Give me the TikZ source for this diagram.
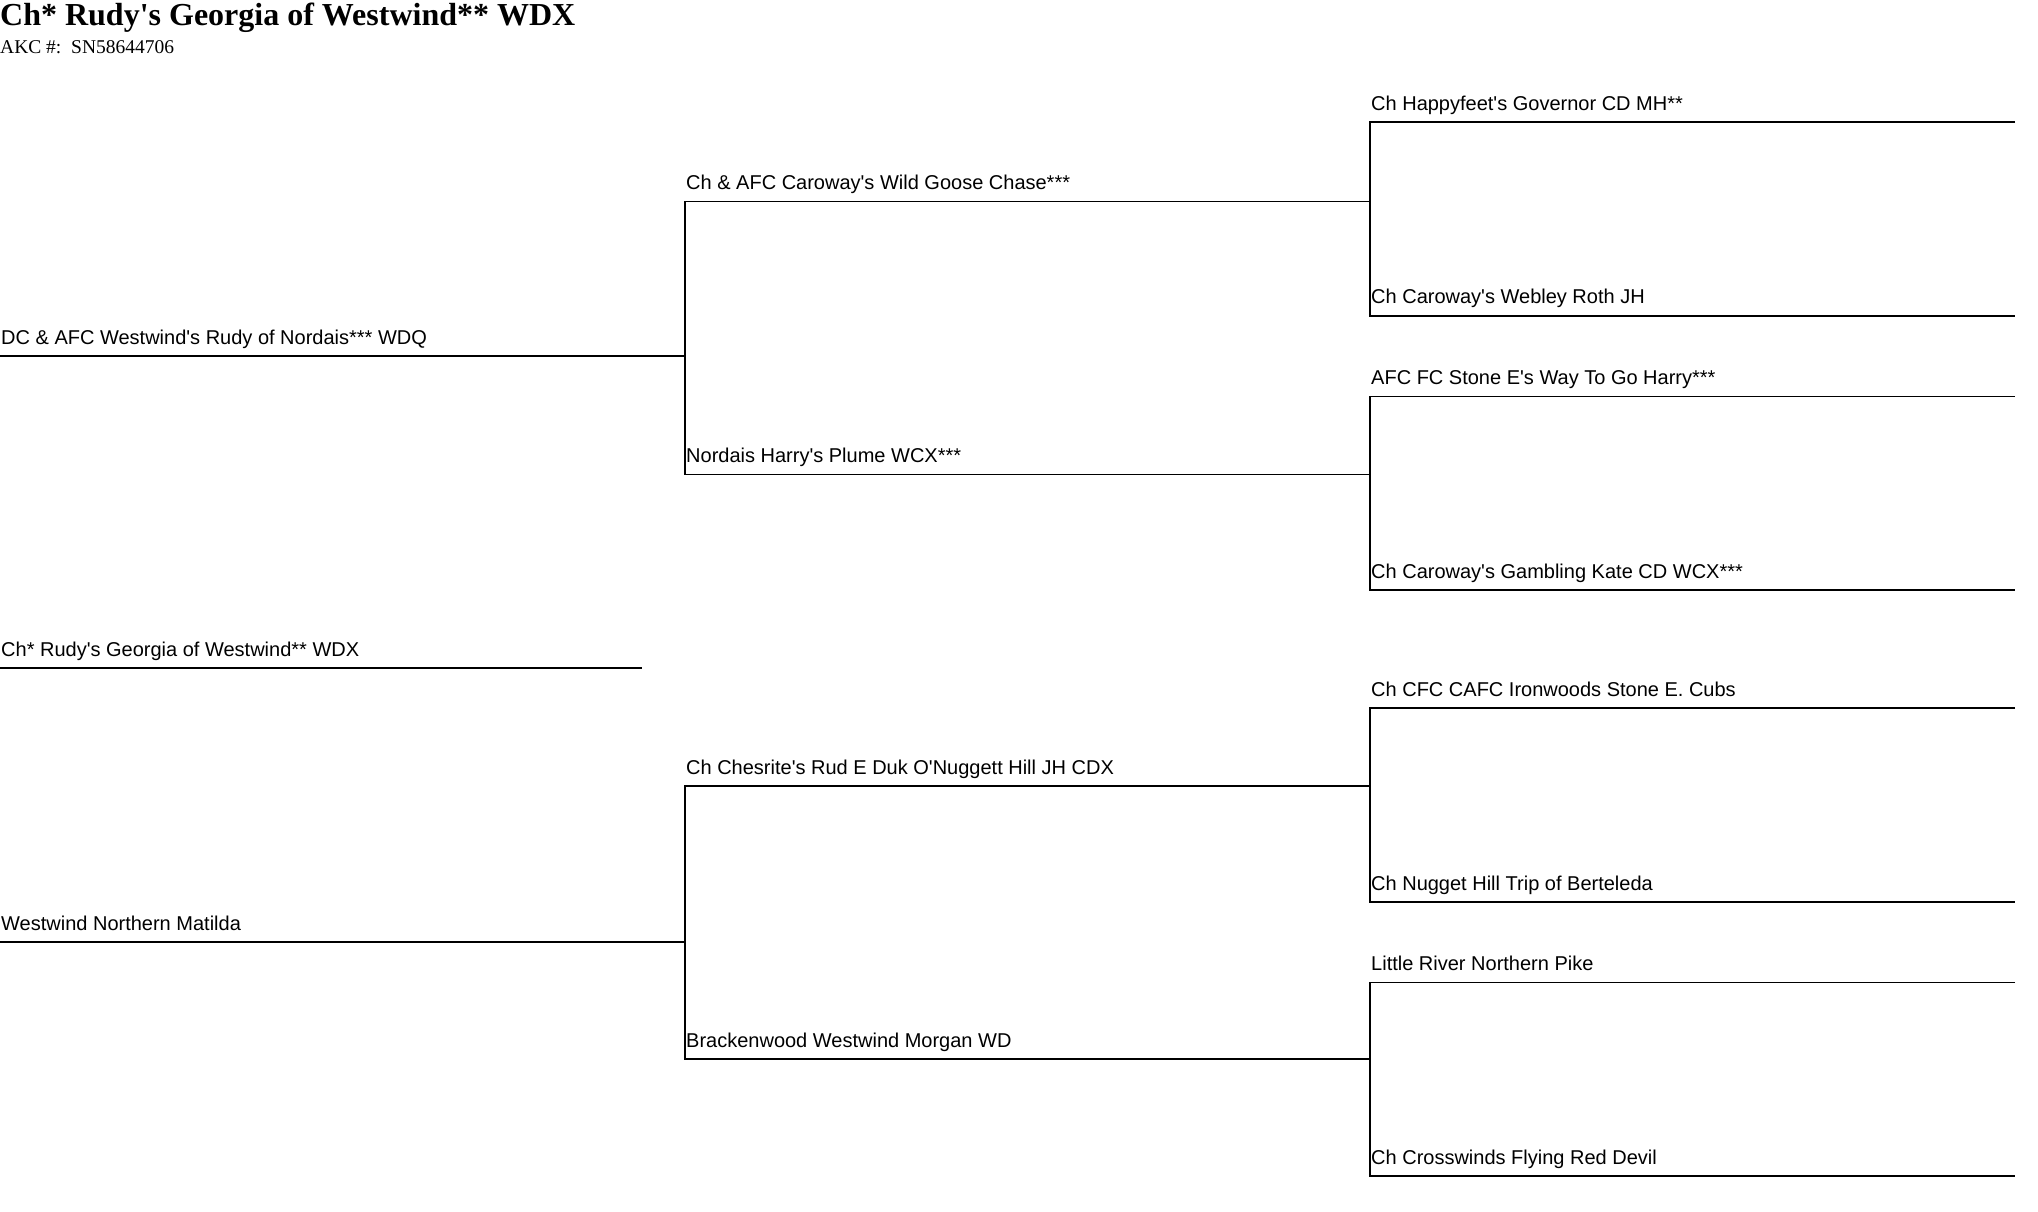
\documentclass[tikz,border=0pt]{standalone}
\usepackage{fontspec}
\newfontfamily\pedsans{Liberation Sans}[Ligatures=TeXOff]
\newfontfamily\pedserif{Liberation Serif}[Ligatures=TeXOff]
\usetikzlibrary{calc}

\tikzset{
  pedline/.style={line width=1.7pt, line join=miter},
  doglabel/.style={anchor=base west, inner sep=0pt, font=\pedsans\fontsize{20}{24}\selectfont},
  titletext/.style={anchor=base west, inner sep=0pt, font=\pedserif\bfseries\fontsize{32}{36}\selectfont},
  akctext/.style={anchor=base west, inner sep=0pt, font=\pedserif\fontsize{19.5}{22}\selectfont}
}

\begin{document}
\begin{tikzpicture}[x=1pt, y=-1pt]
  \useasboundingbox (0,0) rectangle (2038,1212);

  % ---- Titre ----
  \node[titletext] (title) at (0,26) {Ch* Rudy's Georgia of Westwind** WDX};
  \node[akctext] (akc) at (0,54) {AKC \#:\ \ SN58644706};

  % ---- Extremites des lignes (W/E) ----
  \foreach \n/\xa/\xb/\y in {self/0/642/668, sire/0/685/356, dam/0/685/942,
      ss/685/1370/201.5, sd/685/1370/474.4, ds/685/1370/786.3, dd/685/1370/1059.3,
      sss/1370/2015/122.2, ssd/1370/2015/315.8, sds/1370/2015/396.4, sdd/1370/2015/590.1,
      dss/1370/2015/708.3, dsd/1370/2015/902, dds/1370/2015/982.6, ddd/1370/2015/1176.2}{
    \coordinate (\n-W) at (\xa,\y);
    \coordinate (\n-E) at (\xb,\y);
  }

  % ---- Lignes simples ----
  \foreach \n in {self, sire, dam}
    \draw[pedline] (\n-W) -- (\n-E);

  % ---- Crochets pere/mere ----
  \foreach \a/\b in {ss/sd, ds/dd, sss/ssd, sds/sdd, dss/dsd, dds/ddd}
    \draw[pedline] (\a-E) -- (\a-W) -- (\b-W) -- (\b-E);

  % ---- Noms ----
  \foreach \n/\txt in {
      self/{Ch* Rudy's Georgia of Westwind** WDX},
      sire/{DC \& AFC Westwind's Rudy of Nordais*** WDQ},
      dam/{Westwind Northern Matilda},
      ss/{Ch \& AFC Caroway's Wild Goose Chase***},
      sd/{Nordais Harry's Plume WCX***},
      ds/{Ch Chesrite's Rud E Duk O'Nuggett Hill JH CDX},
      dd/{Brackenwood Westwind Morgan WD},
      sss/{Ch Happyfeet's Governor CD MH**},
      ssd/{Ch Caroway's Webley Roth JH},
      sds/{AFC FC Stone E's Way To Go Harry***},
      sdd/{Ch Caroway's Gambling Kate CD WCX***},
      dss/{Ch CFC CAFC Ironwoods Stone E. Cubs},
      dsd/{Ch Nugget Hill Trip of Berteleda},
      dds/{Little River Northern Pike},
      ddd/{Ch Crosswinds Flying Red Devil}}
    \node[doglabel] (\n-name) at ([shift={(1,-12)}]\n-W) {\txt};
\end{tikzpicture}
\end{document}
